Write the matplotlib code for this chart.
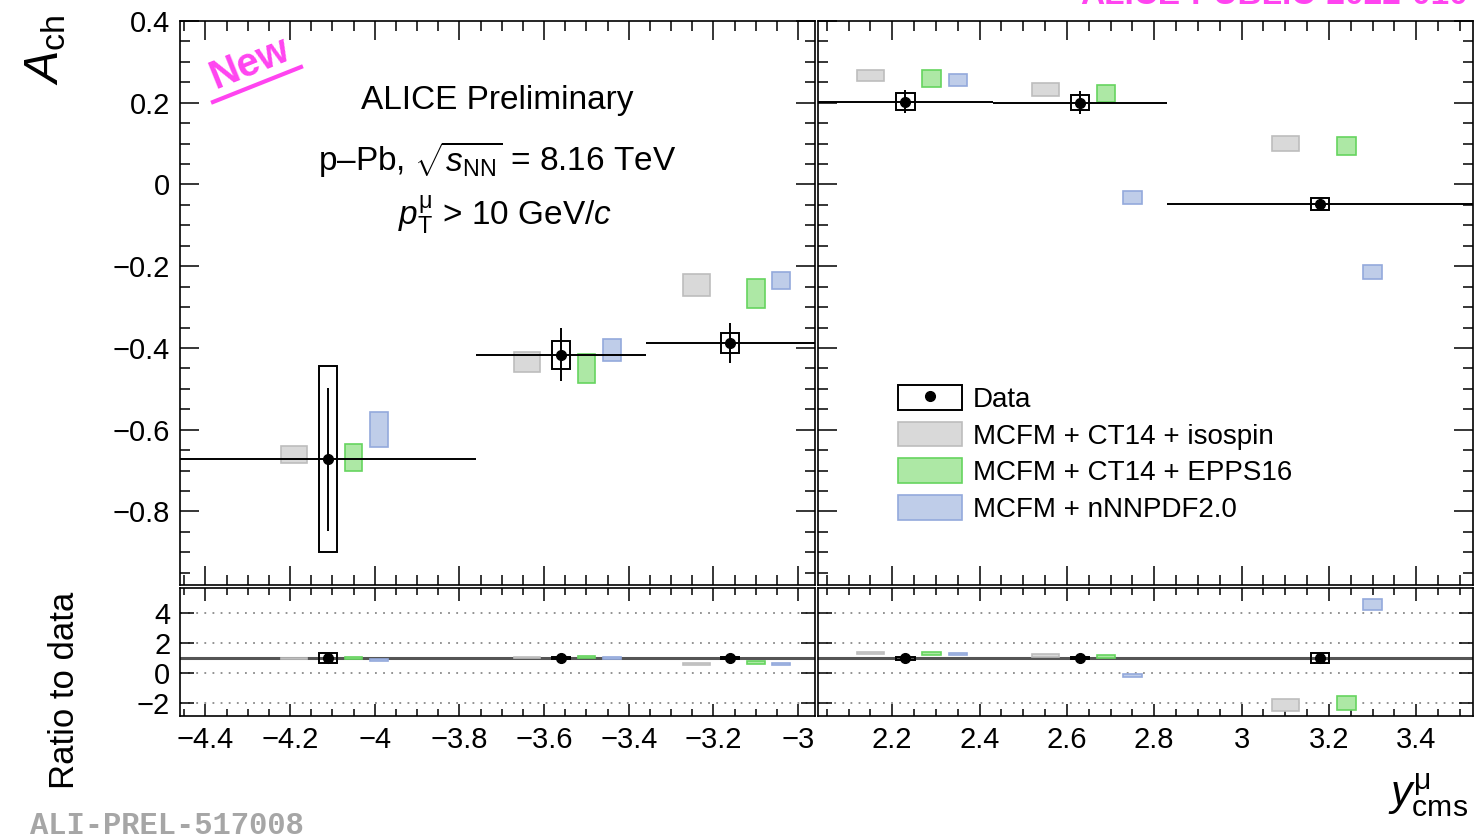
#Imports
import matplotlib
matplotlib.use('Agg')
import matplotlib.pyplot as plt
from matplotlib.ticker import MultipleLocator, FuncFormatter
from matplotlib.patches import Patch
from matplotlib.lines import Line2D
import numpy as np

plt.rcParams['font.family'] = ['Liberation Sans', 'DejaVu Sans']
plt.rcParams['mathtext.fontset'] = 'custom'
plt.rcParams['mathtext.rm'] = 'Liberation Sans'
plt.rcParams['mathtext.it'] = 'Liberation Sans:italic'
plt.rcParams['mathtext.bf'] = 'Liberation Sans:bold'

# backward rapidity (-4.46 < y < -2.96)
bins_bwd = [-4.46, -3.76, -3.36, -2.96]
data_bwd = [-0.672, -0.417, -0.388]
stat_bwd = [0.175, 0.065, 0.050]
syst_bwd = [0.228, 0.035, 0.025]
iso_bwd = [-0.661, -0.435, -0.246]
iso_bwd_err = [0.021, 0.024, 0.026]
epps_bwd = [-0.669, -0.450, -0.267]
epps_bwd_err = [0.033, 0.035, 0.036]
nnpdf_bwd = [-0.600, -0.405, -0.235]
nnpdf_bwd_err = [0.043, 0.027, 0.020]

# forward rapidity (2.03 < y < 3.53)
bins_fwd = [2.03, 2.43, 2.83, 3.53]
data_fwd = [0.203, 0.200, -0.047]
stat_fwd = [0.027, 0.028, 0.012]
syst_fwd = [0.020, 0.018, 0.015]
iso_fwd = [0.266, 0.232, 0.100]
iso_fwd_err = [0.014, 0.016, 0.018]
epps_fwd = [0.259, 0.222, 0.093]
epps_fwd_err = [0.021, 0.021, 0.022]
nnpdf_fwd = [0.256, -0.032, -0.214]
nnpdf_fwd_err = [0.015, 0.015, 0.018]

labels = ['Data', 'MCFM + CT14 + isospin', 'MCFM + CT14 + EPPS16', 'MCFM + nNNPDF2.0']

# styles: (face, edge, x offset, box width)
sty_iso = ('#d9d9d9', '#bdbdbd', -0.08, 0.062)
sty_epps = ('#ade8a5', '#66d45f', 0.06, 0.042)
sty_nnpdf = ('#bfcde9', '#93a9dc', 0.12, 0.042)
pink = '#ff44f0'

W, H = 1477, 839
fig = plt.figure(figsize=(W / 100, H / 100), dpi=100)


def pos(x0, y0, x1, y1):
    return [x0 / W, 1 - y1 / H, (x1 - x0) / W, (y1 - y0) / H]


ax_l = fig.add_axes(pos(180, 21, 815, 585))
ax_r = fig.add_axes(pos(818, 21, 1473, 585))
rx_l = fig.add_axes(pos(180, 588, 815, 716))
rx_r = fig.add_axes(pos(818, 588, 1473, 716))


def fmt(v, _):
    v = round(v, 3)
    if v == 0:
        return '0'
    return f'{v:g}'.replace('-', '\u2212')


panels = [
    (ax_l, rx_l, bins_bwd, data_bwd, stat_bwd, syst_bwd,
     [(iso_bwd, iso_bwd_err, sty_iso), (epps_bwd, epps_bwd_err, sty_epps), (nnpdf_bwd, nnpdf_bwd_err, sty_nnpdf)]),
    (ax_r, rx_r, bins_fwd, data_fwd, stat_fwd, syst_fwd,
     [(iso_fwd, iso_fwd_err, sty_iso), (epps_fwd, epps_fwd_err, sty_epps), (nnpdf_fwd, nnpdf_fwd_err, sty_nnpdf)]),
]

for ax, rx, bins, dat, stat, syst, models in panels:
    edges = np.array(bins)
    xc = (edges[:-1] + edges[1:]) / 2
    xhw = np.diff(edges) / 2
    y = np.array(dat)
    st = np.array(stat)
    sy = np.array(syst)

    # main panel
    for vals, errs, (face, edge, off, w) in models:
        v = np.array(vals)
        e = np.array(errs)
        ax.bar(xc + off, 2 * e, bottom=v - e, width=w, color=face, edgecolor=edge, lw=1.2, zorder=3)
    ax.errorbar(xc, y, yerr=st, xerr=xhw, fmt='o', color='k', ms=7, elinewidth=1.4, capsize=0, zorder=5)
    ax.bar(xc, 2 * sy, bottom=y - sy, width=0.042, fill=False, edgecolor='k', lw=1.4, zorder=4)

    # ratio panel
    for v in (4, 2, 0, -2):
        rx.axhline(v, color='#8a8a8a', ls=(0, (1, 3.5)), lw=1.3, zorder=1)
    rx.axhline(1, color='#555555', lw=2.2, zorder=2)
    for vals, errs, (face, edge, off, w) in models:
        r = np.array(vals) / y
        re = np.array(errs) / np.abs(y)
        rx.bar(xc + off, 2 * re, bottom=r - re, width=w, color=face, edgecolor=edge, lw=1.2, zorder=3)
    rx.errorbar(xc, np.ones_like(y), yerr=st / np.abs(y), fmt='o', color='k', ms=7,
                elinewidth=1.4, capsize=0, zorder=5)
    rx.bar(xc, 2 * sy / np.abs(y), bottom=1 - sy / np.abs(y), width=0.042, fill=False,
           edgecolor='k', lw=1.4, zorder=4)

    for a in (ax, rx):
        a.set_xlim(bins[0], bins[-1])
        a.xaxis.set_major_locator(MultipleLocator(0.2))
        a.xaxis.set_minor_locator(MultipleLocator(0.05))
        a.xaxis.set_major_formatter(FuncFormatter(fmt))
        a.yaxis.set_major_formatter(FuncFormatter(fmt))
        a.tick_params(which='both', direction='in', top=True, right=True, width=1.1, labelsize=21)
        for s in a.spines.values():
            s.set_linewidth(1.2)

    ax.set_ylim(-0.98, 0.4)
    ax.yaxis.set_major_locator(MultipleLocator(0.2))
    ax.yaxis.set_minor_locator(MultipleLocator(0.05))
    ax.tick_params(which='major', length=14, pad=7)
    ax.tick_params(which='minor', length=7)
    ax.tick_params(labelbottom=False)

    rx.set_ylim(-2.85, 5.65)
    rx.yaxis.set_major_locator(MultipleLocator(2))
    rx.tick_params(axis='y', which='major', length=10, pad=7)
    rx.tick_params(axis='x', which='major', length=9, pad=7)
    rx.tick_params(axis='x', which='minor', length=5)

ax_r.tick_params(labelleft=False)
rx_r.tick_params(labelleft=False)

# legend
handles = [(Patch(facecolor='white', edgecolor='black', lw=1.4),
            Line2D([], [], marker='o', color='k', ls='none', ms=7)),
           Patch(facecolor=sty_iso[0], edgecolor=sty_iso[1], lw=1.2),
           Patch(facecolor=sty_epps[0], edgecolor=sty_epps[1], lw=1.2),
           Patch(facecolor=sty_nnpdf[0], edgecolor=sty_nnpdf[1], lw=1.2)]
ax_r.legend(handles, labels, loc='upper left', bbox_to_anchor=(0.122, 0.355), frameon=False,
            fontsize=20, handlelength=2.3, handleheight=1.0, labelspacing=0.32,
            handletextpad=0.4, borderpad=0, borderaxespad=0)

# texts
fig.text(46 / W, 1 - 50 / H, r'$A_{\mathrm{ch}}$', rotation=90, fontsize=35, ha='center', va='center')
fig.text(65 / W, 1 - 690 / H, 'Ratio to data', rotation=90, fontsize=25, ha='center', va='center')
fig.text(1428 / W, 1 - 795 / H, r'$y^{\mathrm{μ}}_{\mathrm{cms}}$', fontsize=31, ha='center', va='center')

fig.text(497 / W, 1 - 100 / H, 'ALICE Preliminary', fontsize=24, ha='center', va='center')
fig.text(497 / W, 1 - 160 / H, r'p–Pb, $\sqrt{s_{\mathrm{NN}}}$ = 8.16 TeV', fontsize=24, ha='center', va='center')
fig.text(505 / W, 1 - 215 / H, r'$p_{\mathrm{T}}^{\mathrm{μ}}$ > 10 GeV/$c$', fontsize=24, ha='center', va='center')

fig.text(249 / W, 1 - 63 / H, 'New', rotation=22, fontsize=29, fontweight='bold', color=pink,
         ha='center', va='center', rotation_mode='anchor')
fig.add_artist(Line2D([213 / W, 301 / W], [1 - 102 / H, 1 - 67 / H], color=pink, lw=3))

fig.text(1080 / W, 1 - 3.5 / H, 'ALICE-PUBLIC-2022-010', fontsize=24, fontweight='bold', color=pink,
         ha='left', va='baseline')
fig.text(30 / W, 1 - 826 / H, 'ALI-PREL-517008', fontsize=22, fontweight='bold', color='#a6a6a6',
         family='Liberation Mono', ha='left', va='center')

fig.savefig('out.png', dpi=100)
